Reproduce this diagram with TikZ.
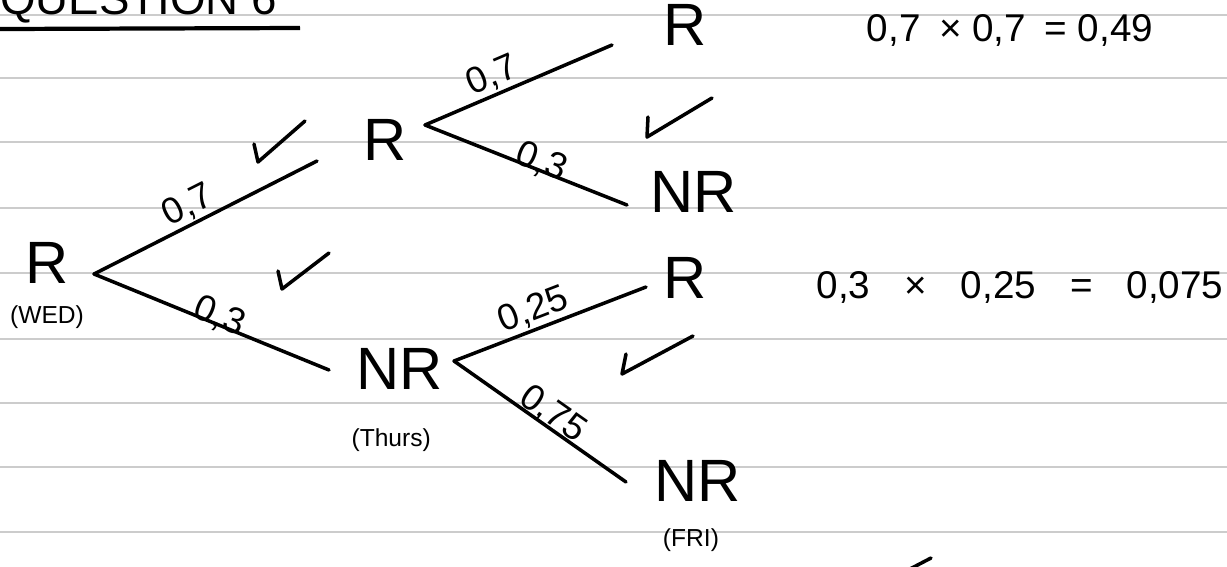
\documentclass[tikz,border=0pt]{standalone}
\usepackage{fontspec}
\setmainfont{Liberation Sans}
\usetikzlibrary{positioning}
\tikzset{
  state/.style={inner sep=0pt, font=\fontsize{34}{36}\selectfont},
  day/.style={inner sep=0pt, font=\fontsize{14}{16}\selectfont},
  prob/.style={sloped, above, inner sep=1pt, font=\fontsize{21}{22}\selectfont},
  product/.style={inner sep=0pt, font=\fontsize{22}{24}\selectfont},
  branch/.style={line width=2pt, line cap=round},
  checkmark/.style={line width=2pt, line join=round, line cap=round},
  ruled/.style={gray!40, line width=1pt}
}

\begin{document}
\begin{tikzpicture}[x=0.02cm, y=-0.02cm]
  \useasboundingbox (0,0) rectangle (1227,566);
  \clip (0,0) rectangle (1227,566);
  % lined paper
  \foreach \y in {15,78,142,208,273,339,403,467,532}
    \draw[ruled] (0,\y) -- (1227,\y);
  % heading
  \node[anchor=base west, inner sep=0pt, font=\fontsize{26}{28}\selectfont] (title) at (0,14) {QUESTION 6};
  \draw[line width=2.4pt] (0,29) -- (300,28);

  % states
  \node[state] (wed) at (47,263) {R};
  \node[day, below=0.42cm of wed] (wedlbl) {(WED)};
  \node[state] (thuR) at (385,140) {R};
  \node[state] (thuNR) at (400,369) {NR};
  \node[day, below=0.76cm of thuNR, xshift=-5] (thulbl) {(Thurs)};
  \node[state] (friRR) at (685,25) {R};
  \node[state] (friRN) at (694,192) {NR};
  \node[state] (friNR) at (685,278) {R};
  \node[state] (friNN) at (698,481) {NR};
  \node[day, below=0.52cm of friNN, xshift=-4] (frilbl) {(FRI)};

  % branch ends
  \coordinate (a0) at (94,274);
  \coordinate (a1) at (317,161);
  \coordinate (a2) at (329,370);
  \coordinate (b0) at (425,125);
  \coordinate (b1) at (612,45);
  \coordinate (b2) at (627,205);
  \coordinate (c0) at (454,361);
  \coordinate (c1) at (646,287);
  \coordinate (c2) at (626,482);

  % branches
  \draw[branch] (a0) -- node[prob, pos=0.46] {0,7} (a1);
  \draw[branch] (a0) -- node[prob, pos=0.52, yshift=-6] {0,3} (a2);
  \draw[branch] (b0) -- node[prob, pos=0.40] {0,7} (b1);
  \draw[branch] (b0) -- node[prob, pos=0.56, yshift=-6] {0,3} (b2);
  \draw[branch] (c0) -- node[prob, pos=0.45] {0,25} (c1);
  \draw[branch] (c0) -- node[prob, pos=0.53, yshift=-3] {0,75} (c2);

  % ticks
  \draw[checkmark] (254,144) -- (258,162) -- (305,121);
  \draw[checkmark] (648,117) -- (647,137) -- (712,98);
  \draw[checkmark] (278,271) -- (282,289) -- (329,253);
  \draw[checkmark] (626,354) -- (622,374) -- (693,336);
  \draw[checkmark] (908,570) -- (931,558);

  % products
  \node[product] (prodRR) at (1010,30) {0,7\hspace{0.2em} × 0,7 \hspace{0.2em}= 0,49};
  \node[product] (prodNR) at (1020,287) {0,3\hspace{0.6em} × \hspace{0.6em}0,25\hspace{0.6em} = \hspace{0.6em}0,075};
\end{tikzpicture}
\end{document}
